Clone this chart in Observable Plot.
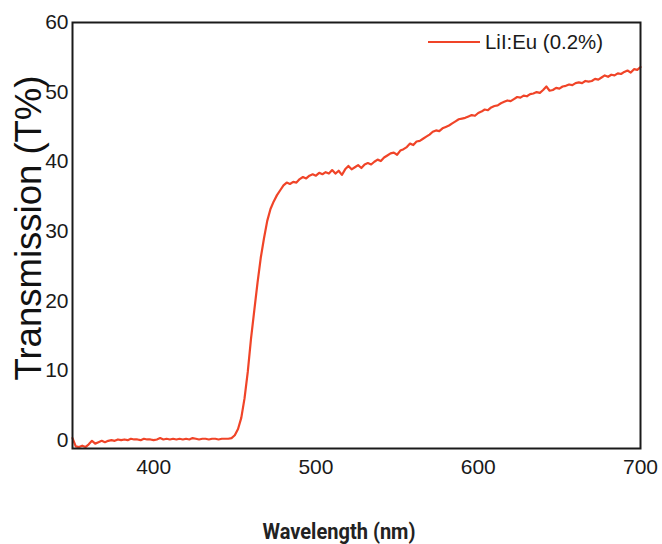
<!DOCTYPE html>
<html>
<head>
<meta charset="utf-8">
<script src="https://cdn.jsdelivr.net/npm/d3@7"></script>
<script src="https://cdn.jsdelivr.net/npm/@observablehq/plot@0.6"></script>
<style>
  html, body { margin: 0; padding: 0; background: #fff; }
  #chart svg { display: block; }
</style>
</head>
<body>
<div id="chart"></div>
<script>
// Wavelength (nm), 2 nm steps from 350 to 700
const wavelength = d3.range(350, 701, 2);
// Transmission (%)
const transmission = [
  0.3, -0.9, -1.0, -0.8, -1.0, -0.6, -0.1, -0.5, -0.3, -0.1,
  -0.3, -0.1, 0.0, -0.1, 0.1, 0.0, 0.1, 0.0, 0.2, 0.1,
  0.1, 0.0, 0.2, 0.1, 0.1, 0.0, 0.1, 0.3, 0.1, 0.2,
  0.1, 0.2, 0.1, 0.2, 0.1, 0.2, 0.1, 0.3, 0.2, 0.1,
  0.2, 0.2, 0.1, 0.2, 0.2, 0.1, 0.2, 0.2, 0.2, 0.3,
  0.7, 1.6, 3.2, 6.0, 9.8, 14.6, 18.6, 22.6, 26.2, 29.0,
  31.5, 33.2, 34.3, 35.2, 35.9, 36.6, 37.0, 36.8, 37.1, 37.0,
  37.5, 37.8, 37.6, 38.0, 38.2, 38.0, 38.4, 38.2, 38.5, 38.3,
  38.8, 38.3, 38.7, 38.1, 38.9, 39.4, 38.9, 39.2, 39.5, 39.1,
  39.6, 39.8, 39.6, 40.0, 40.3, 40.1, 40.6, 40.9, 41.2, 41.3,
  41.0, 41.6, 41.8, 42.1, 42.6, 42.4, 42.9, 43.0, 43.3, 43.6,
  43.9, 44.3, 44.5, 44.4, 44.8, 45.0, 45.2, 45.5, 45.8, 46.1,
  46.2, 46.3, 46.5, 46.7, 46.6, 47.0, 47.2, 47.5, 47.4, 47.8,
  48.0, 48.1, 48.4, 48.6, 48.8, 48.7, 49.0, 49.3, 49.2, 49.5,
  49.4, 49.7, 49.8, 50.0, 49.9, 50.3, 50.8, 50.2, 50.3, 50.6,
  50.5, 50.8, 50.9, 51.1, 51.0, 51.3, 51.4, 51.3, 51.6, 51.5,
  51.6, 51.9, 51.8, 52.1, 52.4, 52.2, 52.5, 52.4, 52.7, 52.6,
  52.9, 53.1, 52.8, 53.3, 53.2, 53.6
];
const xTicks = [400, 500, 600, 700];
const yTicks = [0, 10, 20, 30, 40, 50, 60];
const seriesName = "LiI:Eu (0.2%)";
const xLabel = "Wavelength (nm)";
const yLabel = "Transmission (T%)";

const data = wavelength.map((w, i) => ({w, t: transmission[i]}));
const lineColor = "#f04428";

const plot = Plot.plot({
  width: 662,
  height: 544,
  marginLeft: 72,
  marginRight: 22,
  marginTop: 22,
  marginBottom: 96,
  style: {fontFamily: "'Liberation Sans', Arial, sans-serif", fontSize: "21px", color: "#1a1a1a", background: "#fff"},
  x: {domain: [350, 700]},
  y: {domain: [-1.2, 60]},
  marks: [
    Plot.axisX({ticks: xTicks, tickSize: 0, tickPadding: 11, label: null, fontSize: 21}),
    Plot.axisY({ticks: yTicks, tickSize: 0, tickPadding: 4, label: null, fontSize: 21}),
    Plot.line(data, {x: "w", y: "t", stroke: lineColor, strokeWidth: 2.2}),
    Plot.frame({stroke: "#1a1a1a", strokeWidth: 2})
  ]
});

const svg = d3.select(plot);
// Legend (inside plot, top-right)
const lg = svg.append("g").attr("class", "legend");
lg.append("line").attr("x1", 428).attr("x2", 480).attr("y1", 42).attr("y2", 42)
  .attr("stroke", lineColor).attr("stroke-width", 2);
lg.append("text").attr("x", 485).attr("y", 42).attr("dy", "0.35em")
  .style("text-anchor", "start").style("font-size", "20px").attr("fill", "#1a1a1a")
  .attr("textLength", 118).attr("lengthAdjust", "spacingAndGlyphs")
  .text(seriesName);
// Y-axis title
svg.append("text")
  .attr("transform", "translate(28,228) rotate(-90)")
  .style("text-anchor", "middle").attr("dy", "0.35em")
  .style("font-size", "36px").attr("fill", "#111")
  .style("font-family", "'Liberation Sans', Arial, sans-serif")
  .attr("textLength", 305).attr("lengthAdjust", "spacingAndGlyphs")
  .text(yLabel);
// X-axis title (condensed bold)
svg.append("text")
  .attr("x", 339).attr("y", 531).attr("dy", "0.35em")
  .style("text-anchor", "middle")
  .style("font-size", "22px").style("font-weight", "bold").attr("fill", "#222")
  .style("font-family", "Roboto, 'Liberation Sans', sans-serif")
  .attr("textLength", 153).attr("lengthAdjust", "spacingAndGlyphs")
  .text(xLabel);

document.getElementById("chart").appendChild(plot);
</script>
</body>
</html>
